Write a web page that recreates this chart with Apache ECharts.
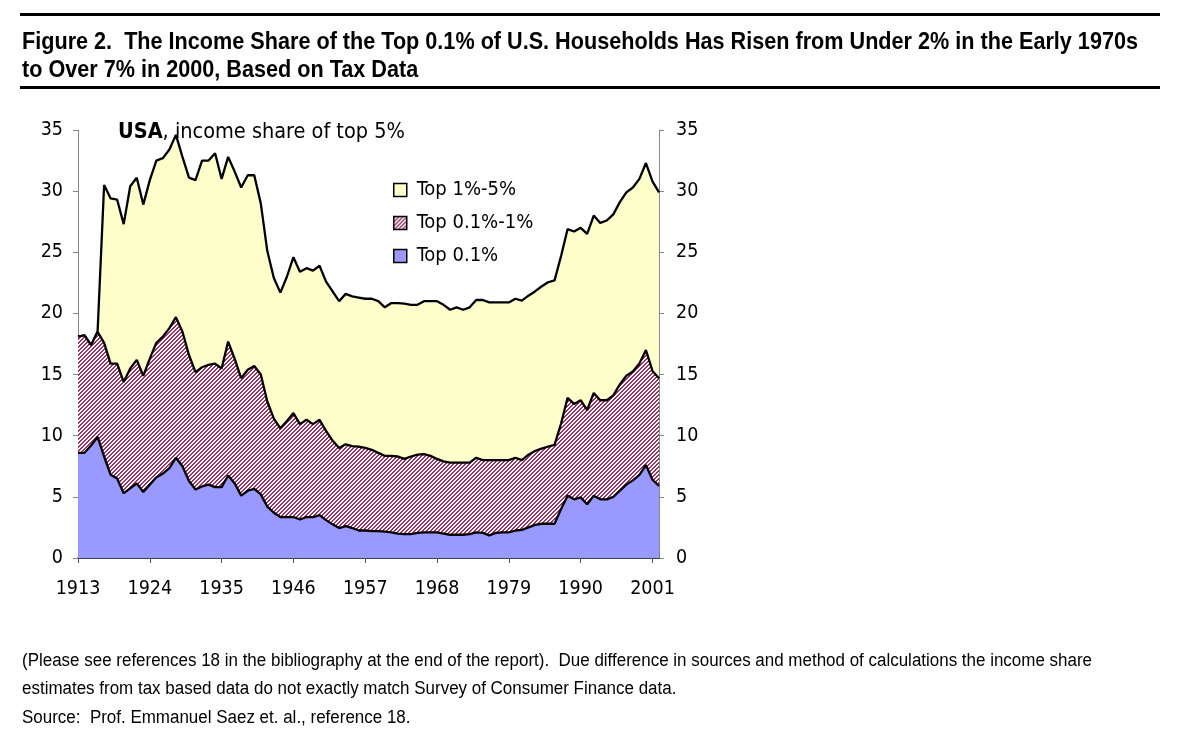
<!DOCTYPE html>
<html>
<head>
<meta charset="utf-8">
<script src="https://cdn.jsdelivr.net/npm/echarts@6/dist/echarts.min.js"></script>
<style>
html,body{margin:0;padding:0;background:#fff;}
#c{width:1180px;height:746px;}
</style>
</head>
<body>
<div id="c"></div>
<script>
// ---- data ----
const years = [];
for (let y = 1913; y <= 2002; y++) years.push(String(y));

// upper edge of the chart = income share of top 5%
const top5Share = [
 18.1,18.2,17.4,18.5,30.5,29.4,29.3,27.3,30.4,31.1,
 28.9,30.9,32.5,32.7,33.4,34.6,32.8,31.1,30.9,32.5,
 32.5,33.1,31.0,32.8,31.6,30.3,31.3,31.3,29.0,25.1,
 22.9,21.7,23.0,24.6,23.4,23.7,23.5,23.9,22.6,21.8,
 21.0,21.6,21.4,21.3,21.2,21.2,21.0,20.5,20.85,20.85,
 20.8,20.7,20.7,21.0,21.0,21.0,20.7,20.3,20.5,20.3,
 20.5,21.1,21.1,20.9,20.9,20.9,20.9,21.2,21.05,21.45,
 21.8,22.2,22.55,22.7,24.7,26.9,26.7,27.0,26.5,28.0,
 27.4,27.6,28.1,29.1,29.9,30.3,31.0,32.3,30.8,29.9
];
// middle edge = income share of top 1%
const top1Share = [
 18.1,18.2,17.4,18.5,17.6,15.9,15.9,14.4,15.5,16.2,
 14.9,16.3,17.6,18.1,18.8,19.7,18.5,16.6,15.2,15.6,
 15.8,15.9,15.5,17.7,16.3,14.7,15.4,15.7,15.0,12.8,
 11.4,10.6,11.2,11.85,10.95,11.3,10.95,11.3,10.4,9.6,
 9.0,9.3,9.15,9.1,9.0,8.85,8.6,8.35,8.35,8.3,
 8.1,8.3,8.45,8.5,8.35,8.1,7.9,7.8,7.8,7.8,
 7.8,8.2,8.0,8.0,8.0,8.0,8.0,8.2,8.0,8.45,
 8.75,8.95,9.1,9.25,11.0,13.1,12.6,12.9,12.1,13.5,
 12.9,12.9,13.3,14.2,14.9,15.25,15.9,17.0,15.3,14.7
];
// lower edge = income share of top 0.1%
const top01Share = [
 8.6,8.6,9.2,9.9,8.3,6.8,6.5,5.3,5.7,6.1,
 5.4,6.0,6.6,6.9,7.35,8.2,7.5,6.3,5.6,5.85,
 6.0,5.8,5.8,6.75,6.1,5.1,5.5,5.65,5.2,4.2,
 3.7,3.35,3.35,3.35,3.15,3.35,3.35,3.5,3.1,2.75,
 2.45,2.6,2.45,2.25,2.25,2.2,2.2,2.15,2.1,2.0,
 1.95,1.95,2.05,2.1,2.1,2.1,2.0,1.9,1.9,1.9,
 1.95,2.1,2.05,1.85,2.05,2.1,2.1,2.25,2.3,2.5,
 2.7,2.8,2.8,2.8,4.0,5.1,4.8,4.95,4.4,5.1,
 4.8,4.8,5.0,5.5,6.0,6.35,6.8,7.6,6.4,5.9
];
const seriesNames = ['Top 1%-5%', 'Top 0.1%-1%', 'Top 0.1%'];

const titleLines = [
  'Figure 2.  The Income Share of the Top 0.1% of U.S. Households Has Risen from Under 2% in the Early 1970s',
  'to Over 7% in 2000, Based on Tax Data'
];
const noteLines = [
  '(Please see references 18 in the bibliography at the end of the report).  Due difference in sources and method of calculations the income share',
  'estimates from tax based data do not exactly match Survey of Consumer Finance data.',
  'Source:  Prof. Emmanuel Saez et. al., reference 18.'
];

// ---- styles ----
const FONT = "'DejaVu Sans Condensed',sans-serif";
const WIDE = "'Liberation Sans',Arial,sans-serif";
function hatch() {
  const n = 4;
  const c = document.createElement('canvas');
  c.width = n; c.height = n;
  const g = c.getContext('2d');
  g.fillStyle = '#ffffff'; g.fillRect(0, 0, n, n);
  g.fillStyle = '#993366';
  for (let x = 0; x < n; x++) {
    for (let y = 0; y < n; y++) {
      const k = (x + y) % n;
      if (k === 0 || k === 1) g.fillRect(x, y, 1, 1);
    }
  }
  return { image: c, repeat: 'repeat' };
}
const hatchFill = hatch();
const fills = ['#FFFFCC', hatchFill, '#9999FF'];
const dataSets = [top5Share, top1Share, top01Share];

// horizontal condensing factor so text fits the reference widths
function measure(text, font) {
  const c = document.createElement('canvas').getContext('2d');
  c.font = font; return c.measureText(text).width;
}
const titleFont = 'bold 24px ' + WIDE;
const titleScale = 1116 / measure(titleLines[0], titleFont);
const noteFont = '18px ' + WIDE;
const noteScale = 1070 / measure(noteLines[0], noteFont);

const chart = echarts.init(document.getElementById('c'), null, { renderer: 'canvas' });
const tickEvery = function (i) { return i % 11 === 0; };

const graphics = [
  { type: 'rect', shape: { x: 20, y: 13, width: 1140, height: 3 }, style: { fill: '#000' } },
  { type: 'rect', shape: { x: 20, y: 86, width: 1140, height: 3 }, style: { fill: '#000' } },
  { type: 'text', x: 118, y: 132, z: 10, style: {
      text: '{b|USA}, income share of top 5%', verticalAlign: 'middle',
      font: '21.5px ' + FONT, fill: '#000',
      rich: { b: { fontWeight: 'bold', fontSize: 21.5, fontFamily: FONT } }
    } }
];
titleLines.forEach((t, i) => graphics.push({
  type: 'text', x: 22, y: 42 + i * 28, scaleX: titleScale,
  style: { text: t, font: titleFont, fill: '#000', verticalAlign: 'middle' }
}));
noteLines.forEach((t, i) => graphics.push({
  type: 'text', x: 22, y: 661 + i * 28.5, scaleX: noteScale,
  style: { text: t, font: noteFont, fill: '#000', verticalAlign: 'middle' }
}));

const option = {
  animation: false,
  backgroundColor: '#fff',
  textStyle: { fontFamily: FONT },
  grid: { left: 78, right: 521, top: 130, bottom: 188, containLabel: false },
  legend: {
    orient: 'vertical',
    left: 393, top: 180, padding: 0,
    icon: 'rect',
    itemWidth: 13, itemHeight: 13, itemGap: 13,
    textStyle: { fontFamily: FONT, fontSize: 20, color: '#000', padding: [0, 0, 0, 5] },
    itemStyle: { borderColor: '#000', borderWidth: 1.5 },
    data: seriesNames.map((n, i) => ({ name: n, itemStyle: { color: fills[i], borderColor: '#000', borderWidth: 1.5 } }))
  },
  xAxis: {
    type: 'category',
    data: years,
    boundaryGap: false,
    axisLine: { lineStyle: { color: '#000', width: 1.5 } },
    axisTick: { show: true, interval: tickEvery, length: 5, lineStyle: { color: '#555' } },
    axisLabel: { interval: tickEvery, margin: 21, fontSize: 19.5, color: '#000', fontFamily: FONT },
    splitLine: { show: false }
  },
  yAxis: [
    {
      type: 'value', min: 0, max: 35, interval: 5, position: 'left',
      axisLine: { show: true, lineStyle: { color: '#888', width: 1 } },
      axisTick: { show: true, length: 5, lineStyle: { color: '#888' } },
      axisLabel: { margin: 15, fontSize: 19.5, color: '#000', fontFamily: FONT },
      splitLine: { show: false }
    },
    {
      type: 'value', min: 0, max: 35, interval: 5, position: 'right',
      axisLine: { show: true, lineStyle: { color: '#888', width: 1 } },
      axisTick: { show: true, length: 5, lineStyle: { color: '#888' } },
      axisLabel: { margin: 17, fontSize: 19.5, color: '#000', fontFamily: FONT },
      splitLine: { show: false }
    }
  ],
  series: seriesNames.map((n, i) => ({
    name: n,
    type: 'line',
    data: dataSets[i],
    yAxisIndex: 0,
    symbol: 'none',
    z: 2 + i,
    lineStyle: { color: '#000', width: 2.3 },
    itemStyle: { color: fills[i], borderColor: '#000' },
    areaStyle: { color: fills[i], opacity: 1, origin: 'start' }
  })),
  graphic: graphics
};
chart.setOption(option);
</script>
</body>
</html>
